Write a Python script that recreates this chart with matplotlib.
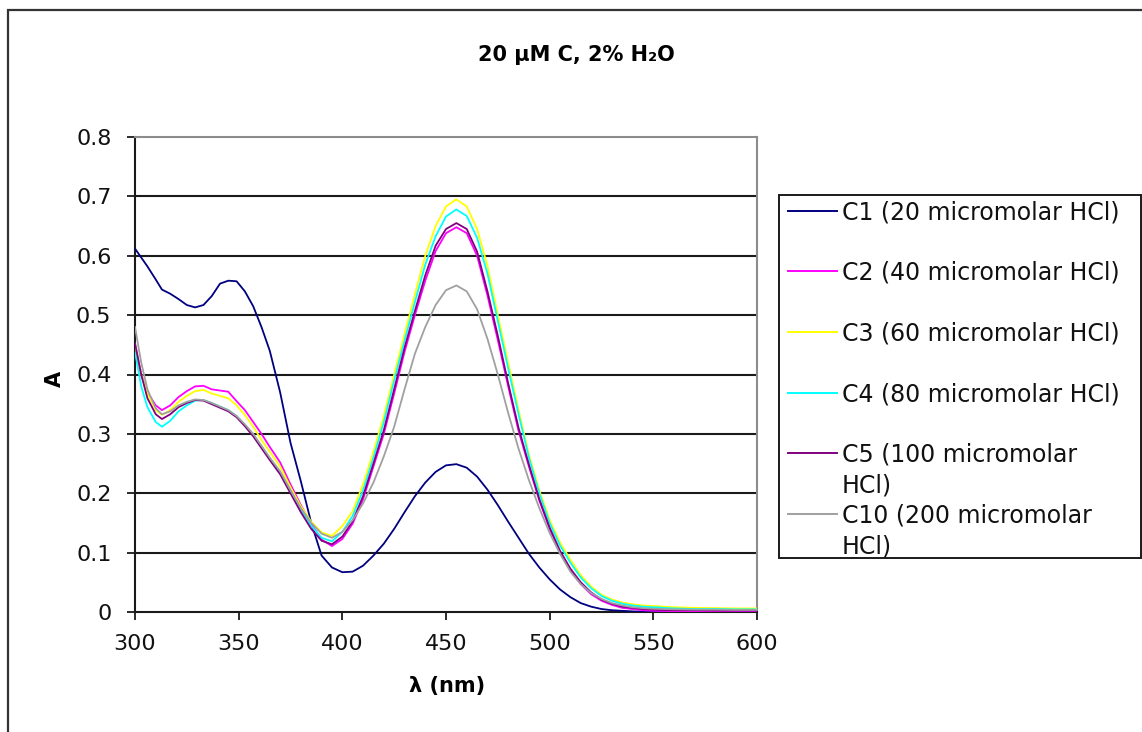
import matplotlib
matplotlib.use("Agg")
import matplotlib.pyplot as plt
from matplotlib.lines import Line2D
from matplotlib.patches import Rectangle

# wavelength grid (nm)
wavelength = [300, 303, 306, 310, 313, 317, 321, 325, 329, 333, 337, 341, 345, 349,
              353, 357, 361, 365, 370, 375, 380, 385, 390, 395, 400, 405, 410, 415,
              420, 425, 430, 435, 440, 445, 450, 455, 460, 465, 470, 475, 480, 485,
              490, 495, 500, 505, 510, 515, 520, 525, 530, 535, 540, 545, 550, 560,
              570, 580, 590, 600]

c1 = [0.612, 0.597, 0.582, 0.560, 0.543, 0.536, 0.527, 0.517, 0.513, 0.517, 0.532, 0.553,
      0.558, 0.557, 0.540, 0.515, 0.480, 0.440, 0.370, 0.285, 0.220, 0.150, 0.095, 0.075,
      0.067, 0.068, 0.078, 0.095, 0.115, 0.140, 0.168, 0.195, 0.218, 0.236, 0.247, 0.249,
      0.243, 0.228, 0.206, 0.180, 0.152, 0.125, 0.098, 0.075, 0.055, 0.038, 0.025, 0.015,
      0.009, 0.005, 0.003, 0.002, 0.001, 0.0005, 0.0, 0.0, 0.0, 0.0, 0.0, 0.0]

c2 = [0.452, 0.400, 0.370, 0.348, 0.340, 0.348, 0.362, 0.372, 0.380, 0.381, 0.375, 0.373,
      0.371, 0.355, 0.340, 0.320, 0.300, 0.278, 0.252, 0.215, 0.180, 0.148, 0.122, 0.111,
      0.123, 0.149, 0.190, 0.245, 0.300, 0.368, 0.438, 0.500, 0.558, 0.608, 0.638, 0.648,
      0.638, 0.600, 0.533, 0.458, 0.380, 0.305, 0.245, 0.188, 0.140, 0.100, 0.070, 0.047,
      0.030, 0.019, 0.012, 0.007, 0.005, 0.003, 0.002, 0.0015, 0.001, 0.001, 0.001, 0.001]

c3 = [0.450, 0.400, 0.368, 0.340, 0.332, 0.340, 0.354, 0.364, 0.372, 0.374, 0.368, 0.364,
      0.360, 0.348, 0.332, 0.312, 0.290, 0.270, 0.245, 0.210, 0.178, 0.152, 0.134, 0.128,
      0.145, 0.170, 0.215, 0.270, 0.330, 0.400, 0.468, 0.535, 0.600, 0.650, 0.683, 0.695,
      0.683, 0.645, 0.583, 0.500, 0.420, 0.340, 0.265, 0.205, 0.155, 0.117, 0.088, 0.062,
      0.043, 0.029, 0.021, 0.016, 0.013, 0.011, 0.010, 0.008, 0.007, 0.0065, 0.006, 0.006]

c4 = [0.438, 0.380, 0.345, 0.320, 0.312, 0.322, 0.338, 0.348, 0.356, 0.357, 0.352, 0.346,
      0.340, 0.330, 0.315, 0.298, 0.278, 0.258, 0.235, 0.205, 0.172, 0.145, 0.125, 0.119,
      0.135, 0.162, 0.205, 0.260, 0.320, 0.390, 0.457, 0.522, 0.585, 0.633, 0.666, 0.678,
      0.667, 0.630, 0.570, 0.490, 0.410, 0.333, 0.260, 0.200, 0.150, 0.112, 0.083, 0.058,
      0.040, 0.027, 0.019, 0.014, 0.011, 0.009, 0.008, 0.006, 0.005, 0.005, 0.0045, 0.0045]

c5 = [0.452, 0.400, 0.360, 0.333, 0.325, 0.333, 0.345, 0.352, 0.357, 0.356, 0.350, 0.344,
      0.338, 0.328, 0.313, 0.296, 0.276, 0.256, 0.232, 0.200, 0.168, 0.140, 0.120, 0.114,
      0.127, 0.153, 0.195, 0.250, 0.306, 0.375, 0.445, 0.507, 0.567, 0.617, 0.645, 0.655,
      0.645, 0.607, 0.540, 0.465, 0.385, 0.310, 0.248, 0.190, 0.142, 0.103, 0.073, 0.050,
      0.033, 0.021, 0.014, 0.009, 0.007, 0.005, 0.004, 0.003, 0.003, 0.0025, 0.0025, 0.0025]

c10 = [0.480, 0.420, 0.375, 0.343, 0.333, 0.338, 0.348, 0.354, 0.358, 0.357, 0.352, 0.346,
       0.340, 0.330, 0.316, 0.300, 0.280, 0.260, 0.237, 0.205, 0.175, 0.150, 0.132, 0.125,
       0.135, 0.155, 0.183, 0.218, 0.262, 0.312, 0.375, 0.435, 0.480, 0.517, 0.542, 0.550,
       0.540, 0.510, 0.460, 0.400, 0.335, 0.275, 0.222, 0.175, 0.133, 0.098, 0.068, 0.047,
       0.032, 0.022, 0.015, 0.011, 0.008, 0.0065, 0.0055, 0.0045, 0.004, 0.004, 0.0035, 0.0035]

series = [c1, c2, c3, c4, c5, c10]
labels = ["C1 (20 micromolar HCl)", "C2 (40 micromolar HCl)", "C3 (60 micromolar HCl)",
          "C4 (80 micromolar HCl)", "C5 (100 micromolar\nHCl)", "C10 (200 micromolar\nHCl)"]
colors = ["#000080", "#FF00FF", "#FFFF00", "#00FFFF", "#800080", "#A0A0A0"]

x_ticks = [300, 350, 400, 450, 500, 550, 600]
y_ticks = [0, 0.1, 0.2, 0.3, 0.4, 0.5, 0.6, 0.7, 0.8]
y_ticklabels = ["0", "0.1", "0.2", "0.3", "0.4", "0.5", "0.6", "0.7", "0.8"]

W, H = 1142, 732
fig = plt.figure(figsize=(W / 100, H / 100), dpi=100)
ax = fig.add_axes([135 / W, 1 - 612 / H, 622 / W, 475 / H])


def fx(x):
    return x / W


def fy(y):
    return 1 - y / H


# outer chart frame (right and bottom edges fall outside the picture)
fig.add_artist(Rectangle((fx(8), fy(760)), 1.2, fy(10) - fy(760), transform=fig.transFigure,
                         fill=False, edgecolor="#333333", lw=1.6))

for yv in y_ticks[1:-1]:
    ax.axhline(yv, color="#1a1a1a", lw=1.5, zorder=1)

for vals, c in zip(series, colors):
    ax.plot(wavelength, vals, color=c, lw=1.3, zorder=3)

ax.set_xlim(300, 600)
ax.set_ylim(0, 0.8)
ax.set_xticks(x_ticks)
ax.set_yticks(y_ticks)
ax.set_yticklabels(y_ticklabels)
ax.tick_params(axis="both", direction="out", length=6, width=1.3, color="#1a1a1a",
               labelsize=16, labelcolor="#111111")
ax.tick_params(axis="y", pad=11)
ax.tick_params(axis="x", pad=10)

for side in ("left", "bottom"):
    ax.spines[side].set_color("#1a1a1a")
    ax.spines[side].set_linewidth(1.5)
for side in ("top", "right"):
    ax.spines[side].set_color("#8c8c8c")
    ax.spines[side].set_linewidth(1.5)

ax.set_xlabel("λ (nm)", fontsize=15, fontweight="bold")
ax.xaxis.set_label_coords(0.502, -0.135)
ax.set_ylabel("A", fontsize=15, fontweight="bold")
ax.yaxis.set_label_coords(-0.112, 0.49)

fig.text(fx(576), fy(55), "20 µM C, 2% H₂O", fontsize=15, fontweight="bold",
         ha="center", va="center")

# legend box drawn by hand to keep the wrapped entries as in the source
fig.add_artist(Rectangle((fx(779), fy(558)), fx(1141) - fx(779), fy(195) - fy(558),
                         transform=fig.transFigure, fill=False, edgecolor="#1a1a1a", lw=1.4))
row_y = [211, 271, 332, 393, 453, 514]
for yc, lab, c in zip(row_y, labels, colors):
    fig.add_artist(Line2D([fx(788), fx(837)], [fy(yc), fy(yc)], transform=fig.transFigure,
                          color=c, lw=1.4))
    for k, line in enumerate(lab.split("\n")):
        fig.text(fx(842), fy(yc + 8.5 + k * 31), line, fontsize=17, color="#111111",
                 ha="left", va="baseline")

fig.savefig("out.png", dpi=100)
